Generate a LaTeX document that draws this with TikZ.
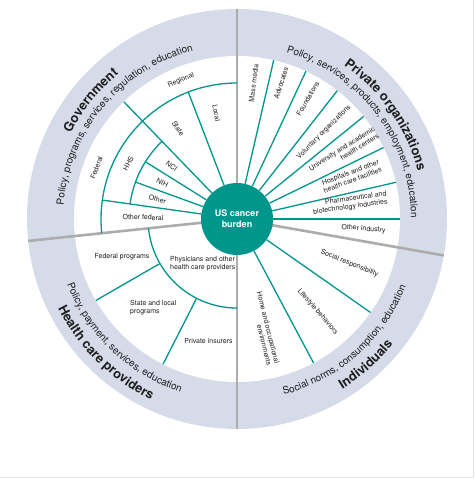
\documentclass[tikz,border=0pt]{standalone}
\usepackage{fontspec}
\setmainfont{TeX Gyre Heros}
\usetikzlibrary{decorations.text}

\definecolor{cancerteal}{RGB}{0,150,140}
\definecolor{ringblue}{RGB}{214,219,234}
\definecolor{divgray}{RGB}{172,172,172}
\definecolor{inktext}{RGB}{30,30,30}
\definecolor{framegray}{RGB}{225,225,225}

\newcommand{\descfont}{\color{inktext}\fontsize{10}{12}\selectfont}
\newcommand{\titlefont}{\color{inktext}\fontsize{13}{15}\selectfont\bfseries}

\tikzset{
  tealline/.style={cancerteal, line width=1.3pt},
  divider/.style={divgray, line width=2.6pt},
  sector/.style={font=\fontsize{7}{8}\selectfont, text=inktext, inner sep=0pt},
  ringtext/.style={decorate, decoration={text along path, text align=center,
    text={#1}}}
}

\begin{document}
\begin{tikzpicture}
  \useasboundingbox (-237pt,-259pt) rectangle (237pt,219pt);
  \draw[framegray, line width=0.8pt] (-237pt,-258pt) -- (236pt,-258pt) -- (236pt,219pt);

  % rings
  \fill[ringblue] (0pt,0pt) circle (210pt);
  \fill[white] (0pt,0pt) circle (163pt);

  % quarter dividers
  \draw[divider] (0pt,0pt) -- (90:210pt);
  \draw[divider] (0pt,0pt) -- (186:210pt);
  \draw[divider] (0pt,0pt) -- (270:210pt);
  \draw[divider] (0pt,0pt) -- (350:210pt);

  \node[circle, fill=cancerteal, minimum size=72pt, inner sep=0pt, text=white,
    align=center, font=\fontsize{9}{11}\selectfont\bfseries]
    (burden) at (0pt,0pt) {US cancer\\burden};

  % government
  \draw[tealline] (90:136pt) arc[start angle=90, end angle=186, radius=136pt];
  \draw[tealline] (134:108pt) arc[start angle=134, end angle=172, radius=108pt];
  \draw[tealline] (burden.111) -- (111:136pt);
  \draw[tealline] (burden.134) -- (134:163pt);
  \draw[tealline] (burden.148) -- (148:108pt);
  \draw[tealline] (burden.160) -- (160:108pt);
  \draw[tealline] (burden.172) -- (172:136pt);

  % private organizations
  \draw[tealline] (burden.77) -- (77:163pt);
  \draw[tealline] (burden.65) -- (65:163pt);
  \draw[tealline] (burden.52) -- (52:163pt);
  \draw[tealline] (burden.39) -- (39:163pt);
  \draw[tealline] (burden.26) -- (26:163pt);
  \draw[tealline] (burden.13) -- (13:163pt);
  \draw[tealline] (burden.0) -- (0:163pt);

  % health care providers
  \draw[tealline] (186:89pt) arc[start angle=186, end angle=270, radius=89pt];
  \draw[tealline] (210:89pt) -- (210:163pt);
  \draw[tealline] (243:89pt) -- (243:163pt);

  % individuals
  \draw[tealline] (burden.298) -- (298:163pt);
  \draw[tealline] (burden.325) -- (325:163pt);

  % ring labels
  \path[ringtext={|\descfont|Policy, programs, services, regulation, education}]
    (180:174pt) arc[start angle=180, end angle=100, radius=174pt];
  \path[ringtext={|\titlefont|Government}]
    (181:187pt) arc[start angle=181, end angle=101, radius=187pt];
  \path[ringtext={|\descfont|Policy, services, products, employment, education}]
    (77:174pt) arc[start angle=77, end angle=-3, radius=174pt];
  \path[ringtext={|\titlefont|Private organizations}]
    (75:187pt) arc[start angle=75, end angle=-5, radius=187pt];
  \path[ringtext={|\descfont|Policy, payment, services, education}]
    (196:182pt) arc[start angle=196, end angle=257, radius=182pt];
  \path[ringtext={|\titlefont|Health care providers}]
    (195:200pt) arc[start angle=195, end angle=256, radius=200pt];
  \path[ringtext={|\descfont|Social norms, consumption, education}]
    (280:182pt) arc[start angle=280, end angle=343, radius=182pt];
  \path[ringtext={|\titlefont|Individuals}]
    (280:200pt) arc[start angle=280, end angle=343, radius=200pt];

  % government sectors
  \node[sector, rotate=70] (federal) at (160:149.5pt) {Federal};
  \node[sector, rotate=22] (regional) at (112:149.5pt) {Regional};
  \node[sector, rotate=63] (hhs) at (153:122pt) {HHS};
  \node[sector, rotate=-57] (state) at (123:108pt) {State};
  \node[sector, rotate=-79] (local) at (101:108pt) {Local};
  \node[sector, rotate=-39] (nci) at (141:84pt) {NCI};
  \node[sector, rotate=-26] (nih) at (154:83pt) {NIH};
  \node[sector, rotate=-14] (otherhhs) at (166:82pt) {Other};
  \node[sector, rotate=-1] (otherfed) at (179:94pt) {Other federal};

  % private sectors
  \node[sector, rotate=83] (massmedia) at (83:137pt) {Mass media};
  \node[sector, rotate=72] (advocates) at (72:143pt) {Advocates};
  \node[sector, rotate=59.5] (foundations) at (59.5:140pt) {Foundations};
  \node[sector, rotate=45] (voluntary) at (45:123pt) {Voluntary organizations};
  \node[sector, rotate=32, align=right] (university) at (32:126pt)
    {University and academic\\health centers};
  \node[sector, rotate=20.5, align=right] (hospitals) at (20.5:122pt)
    {Hospitals and other\\health care facilities};
  \node[sector, rotate=8, align=right] (pharma) at (8:114pt)
    {Pharmaceutical and\\biotechnology industries};
  \node[sector, rotate=-4.5] (otherind) at (-4.5:127pt) {Other industry};

  % health care sectors
  \node[sector] (fedprog) at (-115pt,-38pt) {Federal programs};
  \node[sector, anchor=west, align=left] (stateprog) at (-107pt,-89pt)
    {State and local\\programs};
  \node[sector] (insurers) at (-28.5pt,-122pt) {Private insurers};
  \node[sector, anchor=west, align=left] (physicians) at (-67pt,-45pt)
    {Physicians and other\\health care providers};

  % individual sectors
  \node[sector, rotate=-21.5] (socialresp) at (338.5:121pt) {Social responsibility};
  \node[sector, rotate=-49] (lifestyle) at (311:123pt) {Lifestyle behaviors};
  \node[sector, rotate=-76, align=right] (homeenv) at (284:113pt)
    {Home and occupational\\environments};
\end{tikzpicture}
\end{document}
